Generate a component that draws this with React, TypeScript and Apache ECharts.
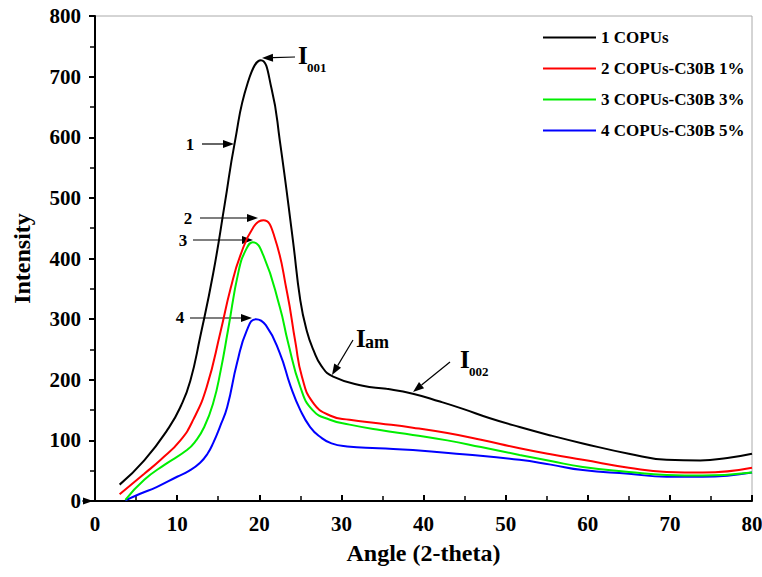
import React, { useEffect, useRef } from "react";
import * as echarts from "echarts";

const seriesNames = ["1 COPUs", "2 COPUs-C30B 1%", "3 COPUs-C30B 3%", "4 COPUs-C30B 5%"];
const seriesColors = ["#000000", "#ff0000", "#00ee00", "#0000ff"];

const curve1: number[][] = [
  [3, 27], [6, 67], [9, 121], [10.5, 158], [11.6, 198], [12.8, 270], [14.4, 376], [15.8, 490],
  [17, 590], [18.6, 690], [20.2, 727], [21.5, 680], [22.5, 595], [24.1, 430], [25, 331],
  [25.8, 280], [26.6, 249], [27.6, 222], [29, 205], [32.6, 190], [35.5, 185], [38.7, 177],
  [42, 164], [44.8, 152], [48, 137], [51.7, 122], [55.5, 108], [59.4, 95], [65, 78],
  [69.6, 68], [73.7, 67], [77, 71], [80, 78],
];
const curve2: number[][] = [
  [3, 11], [6, 45], [8, 68], [10.4, 100], [12, 135], [13.6, 188], [15.3, 280], [16.5, 350],
  [17.7, 405], [19.3, 452], [20.5, 463], [21.8, 438], [23.4, 343], [24.4, 262], [25.2, 205],
  [26.5, 163], [28.6, 141], [31, 134], [34.7, 128], [38.7, 121], [42.9, 112], [47, 101],
  [51.7, 87], [55.5, 77], [59.4, 68], [65, 55], [69.6, 48], [74, 47], [80, 55],
];
const curve3: number[][] = [
  [3.7, 2], [6, 35], [8.5, 60], [11.2, 84], [12.2, 98], [13.3, 122], [14.4, 162], [15.3, 215],
  [16.2, 282], [17.5, 380], [18.4, 415], [19.2, 427], [20.5, 405], [22.5, 320], [23.5, 262],
  [25, 188], [26.5, 150], [28.6, 134], [31, 126], [34.7, 117], [38.7, 109], [42.9, 100],
  [47, 89], [51.7, 76], [55.5, 66], [59.4, 56], [65, 48], [69.6, 43], [74, 42], [80, 47],
];
const curve4: number[][] = [
  [3.7, 1], [5.5, 12], [7.5, 23], [10, 40], [11.5, 50], [12.8, 63], [13.7, 78], [14.4, 96],
  [15.2, 122], [16.1, 155], [17.3, 228], [18.5, 282], [19.6, 300], [20.8, 290], [22.5, 244],
  [23.8, 190], [25, 150], [26.2, 122], [27.4, 106], [28.8, 95], [30.7, 90], [34.5, 87],
  [38.7, 84], [44.8, 77], [51.7, 68], [55.5, 60], [59.4, 51], [65, 45], [69.6, 40], [74, 40],
  [80, 47],
];
const curves = [curve1, curve2, curve3, curve4];

const FONT = "'Liberation Serif', 'Times New Roman', serif";

function arrow(x1: number, y1: number, x2: number, y2: number, head = 11, w = 4) {
  const dx = x2 - x1;
  const dy = y2 - y1;
  const len = Math.sqrt(dx * dx + dy * dy);
  const ux = dx / len;
  const uy = dy / len;
  const bx = x2 - ux * head;
  const by = y2 - uy * head;
  const nx = -uy;
  const ny = ux;
  return [
    {
      type: "line",
      shape: { x1, y1, x2: bx, y2: by },
      style: { stroke: "#000", lineWidth: 1.2 },
      silent: true,
    },
    {
      type: "polygon",
      shape: {
        points: [
          [x2, y2],
          [bx + nx * w, by + ny * w],
          [bx - nx * w, by - ny * w],
        ],
      },
      style: { fill: "#000" },
      silent: true,
    },
  ];
}

function label(text: string, x: number, y: number, size: number, align = "left") {
  return {
    type: "text",
    x,
    y,
    style: {
      text,
      fontFamily: FONT,
      fontWeight: "bold",
      fontSize: size,
      fill: "#000",
      align,
      verticalAlign: "middle",
    },
    silent: true,
  };
}

export default function App() {
  const ref = useRef<HTMLDivElement>(null);
  useEffect(() => {
    if (!ref.current) return;
    const chart = echarts.init(ref.current, undefined, { renderer: "svg" });
    const graphics: any[] = [
      // I001
      label("I", 298, 55, 25),
      label("001", 307, 67, 13),
      ...arrow(295, 57, 262, 58),
      // 1
      label("1", 190, 144, 17, "center"),
      ...arrow(202, 144, 234, 144),
      // 2
      label("2", 188, 218, 17, "center"),
      ...arrow(200, 218, 258, 218),
      // 3
      label("3", 183, 240, 17, "center"),
      ...arrow(193, 240, 253, 240),
      // 4
      label("4", 180, 317, 17, "center"),
      ...arrow(190, 318, 252, 318),
      // Iam
      label("I", 356, 338, 25),
      label("am", 365, 342, 18),
      ...arrow(353, 340, 332, 375),
      // I002
      label("I", 460, 359, 25),
      label("002", 469, 371, 13),
      ...arrow(450, 362, 413, 392),
      // small arrow at 0
      ...arrow(82, 501, 93, 501, 10, 3.5),
    ];

    chart.setOption({
      animation: false,
      backgroundColor: "#ffffff",
      grid: {
        left: 95,
        right: 10,
        top: 16,
        bottom: 76,
        show: true,
        borderColor: "#aaaaaa",
        borderWidth: 1,
        backgroundColor: "transparent",
        containLabel: false,
        outerBoundsMode: "none",
      },
      legend: {
        orient: "vertical",
        left: 538,
        top: 24,
        itemWidth: 53,
        itemHeight: 14,
        itemGap: 14,
        icon: "path://M0,6L53,6L53,8L0,8Z",
        textStyle: { fontFamily: FONT, fontWeight: "bold", fontSize: 17, color: "#000" },
        data: seriesNames,
      },
      xAxis: {
        type: "value",
        min: 0,
        max: 80,
        interval: 10,
        name: "Angle (2-theta)",
        nameLocation: "middle",
        nameGap: 40,
        nameTextStyle: { fontFamily: FONT, fontWeight: "bold", fontSize: 24, color: "#000" },
        axisLine: { show: true, onZero: false, lineStyle: { color: "#000", width: 2 } },
        axisTick: { show: true, inside: true, length: 6, lineStyle: { color: "#000", width: 2 } },
        minorTick: { show: true, splitNumber: 2, length: 5, lineStyle: { color: "#000", width: 1.5 } },
        axisLabel: { margin: 12, fontFamily: FONT, fontWeight: "bold", fontSize: 21, color: "#000" },
        splitLine: { show: false },
      },
      yAxis: {
        type: "value",
        min: 0,
        max: 800,
        interval: 100,
        name: "Intensity",
        nameLocation: "middle",
        nameGap: 61,
        nameTextStyle: { fontFamily: FONT, fontWeight: "bold", fontSize: 24, color: "#000" },
        axisLine: { show: true, onZero: false, lineStyle: { color: "#000", width: 2 } },
        axisTick: { show: true, inside: false, length: 6, lineStyle: { color: "#000", width: 2 } },
        minorTick: { show: true, splitNumber: 2, length: 5, lineStyle: { color: "#000", width: 1.5 } },
        axisLabel: { margin: 14, fontFamily: FONT, fontWeight: "bold", fontSize: 21, color: "#000" },
        splitLine: { show: false },
      },
      series: curves.map((c, i) => ({
        name: seriesNames[i],
        type: "line",
        data: c,
        smooth: 0.5,
        symbol: "none",
        showSymbol: false,
        lineStyle: { color: seriesColors[i], width: 2 },
        itemStyle: { color: seriesColors[i] },
        z: 10 - i,
      })),
      graphic: graphics,
    });
    return () => chart.dispose();
  }, []);
  return (
    <div
      ref={ref}
      style={{ position: "fixed", left: 0, top: 0, width: 762, height: 577 }}
    />
  );
}
